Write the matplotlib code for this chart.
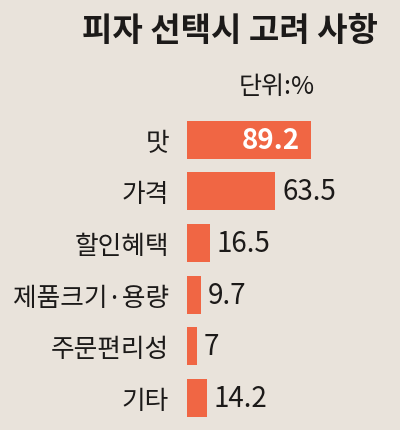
import matplotlib.pyplot as plt

plt.rcParams['font.family'] = ['Noto Sans CJK KR', 'DejaVu Sans']

# data
categories = ['맛', '가격', '할인혜택', '제품크기·용량', '주문편리성', '기타']
values = [89.2, 63.5, 16.5, 9.7, 7, 14.2]
value_labels = ['89.2', '63.5', '16.5', '9.7', '7', '14.2']

bg = '#E9E3DB'
bar_color = '#F06644'
text_color = '#1C1A19'

fig = plt.figure(figsize=(4.0, 4.31), dpi=100, facecolor=bg)
ax = fig.add_axes([187 / 400, 1 - 424.8 / 431, 213 / 400, 310 / 431])
ax.set_facecolor(bg)

y = list(range(len(categories)))
ax.barh(y, values, height=0.74, color=bar_color)
ax.set_xlim(0, 153)
ax.set_ylim(5.5, -0.5)

# category labels
ax.set_yticks(y)
ax.set_yticklabels(categories, fontsize=18.5, color=text_color)
ax.tick_params(axis='y', length=0, pad=13)
ax.set_xticks([])
for s in ax.spines.values():
    s.set_visible(False)

# value labels
for i, (v, lab) in enumerate(zip(values, value_labels)):
    if i == 0:
        ax.text(v - 8, i, lab, ha='right', va='center', fontsize=20,
                color='white', fontweight='bold')
    else:
        ax.text(v + 5, i, lab, ha='left', va='center', fontsize=20,
                color=text_color)

# title and unit
fig.text(378 / 400, 1 - 31 / 431, '피자 선택시 고려 사항', ha='right', va='center',
         fontsize=23.8, fontweight='bold', color=text_color)
fig.text(315 / 400, 1 - 87 / 431, '단위:%', ha='right', va='center',
         fontsize=18, color=text_color)

fig.savefig('out.png', dpi=100, facecolor=bg)
